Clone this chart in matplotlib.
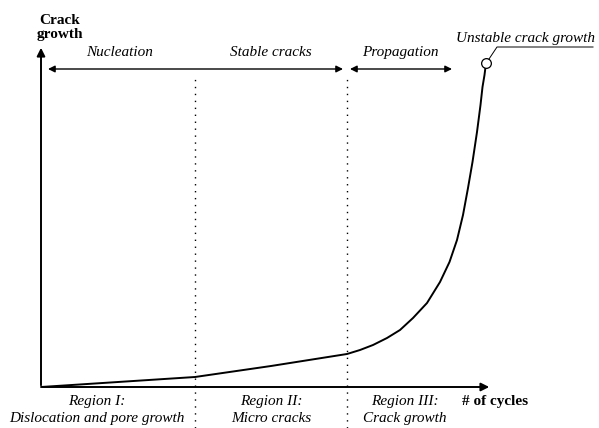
import matplotlib.pyplot as plt

# crack growth curve (x = cycles, y = crack growth), arbitrary units
cycles = [0, 154, 230, 306, 319, 332, 346, 359, 372, 386, 399, 408.5, 416, 422, 427, 431.5, 436, 439.5,
          441.5, 443.5, 444.5]
growth = [0, 10, 21, 33, 37, 42, 49, 57, 69, 84, 105, 125, 147, 172, 199, 225, 255, 282,
          300, 312, 320]
fail_point = (445, 324)

boundaries = [154, 306]
phase_labels = ['Nucleation', 'Stable cracks', 'Propagation']
region_labels = ['Region I:\nDislocation and pore growth', 'Region II:\nMicro cracks',
                 'Region III:\nCrack growth']

plt.rcParams['font.family'] = ['Liberation Serif', 'DejaVu Serif']

fig = plt.figure(figsize=(5.99, 4.28), dpi=100)
ax = fig.add_axes([0, 0, 1, 1])
ax.set_xlim(-41, 558)
ax.set_ylim(-41, 387)
ax.axis('off')

# axes with arrows
ax.annotate('', xy=(0, 342), xytext=(0, -1),
            arrowprops=dict(arrowstyle='-|>', color='black', lw=1.4, mutation_scale=12))
ax.annotate('', xy=(451, 0), xytext=(-1, 0),
            arrowprops=dict(arrowstyle='-|>', color='black', lw=1.4, mutation_scale=12))

# curve
ax.plot(cycles, growth, color='black', lw=1.4, solid_capstyle='round', solid_joinstyle='round')
ax.plot([fail_point[0]], [fail_point[1]], marker='o', ms=7, mfc='white', mec='black', mew=0.9)
ax.plot([fail_point[0] + 3, 456, 552], [fail_point[1] + 4, 340, 340], color='black', lw=0.7)
ax.text(484, 342, 'Unstable crack growth', ha='center', va='bottom', style='italic', fontsize=11)

# region boundaries
for b in boundaries:
    ax.plot([b, b], [-41, 311], color='black', lw=1.0, linestyle=(0, (1, 4)))

# phase arrows
arrow_kw = dict(arrowstyle='<|-|>', color='black', lw=1.0, mutation_scale=10, shrinkA=0, shrinkB=0)
ax.annotate('', xy=(7, 318), xytext=(302, 318), arrowprops=arrow_kw)
ax.annotate('', xy=(309, 318), xytext=(411, 318), arrowprops=arrow_kw)
phase_x = [79, 230, 359]
for xp, lab in zip(phase_x, phase_labels):
    ax.text(xp, 328, lab, ha='center', va='bottom', style='italic', fontsize=11)

# region labels
region_x = [56, 230, 364]
for xp, lab in zip(region_x, region_labels):
    ax.text(xp, -8, lab, ha='center', va='top', style='italic', fontsize=11, linespacing=1.4)

ax.text(421, -15, '# of cycles', ha='left', va='center', fontweight='bold', fontsize=11)
ax.text(19, 346, 'Crack\ngrowth', ha='center', va='bottom', fontweight='bold', fontsize=11,
        linespacing=1.1)

fig.savefig('out.png', dpi=100)
